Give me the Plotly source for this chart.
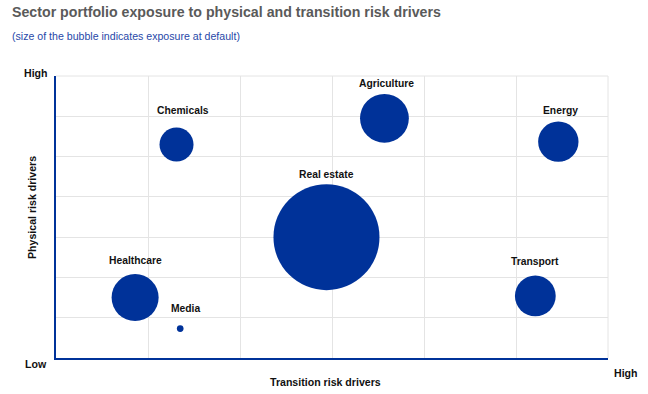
import math
import plotly.graph_objects as go

# ---- data ----
sectors = ["Chemicals", "Agriculture", "Energy", "Real estate", "Healthcare", "Media", "Transport"]
transition_risk = [1.31, 3.57, 5.46, 2.94, 0.86, 1.35, 5.21]   # x (0 = low, 6 = high)
physical_risk = [5.30, 5.95, 5.37, 3.00, 1.50, 0.73, 1.54]      # y (0 = low, 7 = high)
exposure = [10.3, 21.2, 14.5, 100.0, 19.7, 0.4, 14.8]            # relative exposure at default

x_ticks = [0, 1, 2, 3, 4, 5, 6]
y_ticks = [0, 1, 2, 3, 4, 5, 6, 7]

# ---- style ----
BLUE = "#003299"
GRID = "#e4e4e4"
FONT = "Liberation Sans, Arial, sans-serif"
MAX_DIAMETER = 106.0
sizeref = 2.0 * max(exposure) / (MAX_DIAMETER ** 2)
label_gap = {"Chemicals": 17, "Agriculture": 10, "Energy": 11, "Real estate": 10,
             "Healthcare": 14, "Media": 17, "Transport": 14}
label_dx = {"Chemicals": 6, "Media": 5, "Agriculture": 2, "Energy": 2}

W, H = 648, 394

fig = go.Figure()
fig.add_trace(go.Scatter(
    x=transition_risk, y=physical_risk, mode="markers",
    marker=dict(size=exposure, sizemode="area", sizeref=sizeref, color=BLUE,
                opacity=1, line=dict(width=0)),
    hoverinfo="text", text=sectors, showlegend=False,
))

annotations = []
for name, xv, yv, ev in zip(sectors, transition_risk, physical_risk, exposure):
    radius = math.sqrt(ev / 2.0 / sizeref)
    annotations.append(dict(
        x=xv, y=yv, xref="x", yref="y", text=f"<b>{name}</b>", showarrow=False,
        font=dict(family=FONT, size=10.3, color="#111111"),
        xanchor="center", yanchor="middle",
        yshift=radius + label_gap[name], xshift=label_dx.get(name, 0),
    ))

lab_font = dict(family=FONT, size=10.6, color="#111111")
annotations += [
    dict(x=0, y=1, xref="paper", yref="paper", text="<b>High</b>", showarrow=False,
         xanchor="center", yanchor="middle", xshift=-20, yshift=3, font=lab_font),
    dict(x=0, y=0, xref="paper", yref="paper", text="<b>Low</b>", showarrow=False,
         xanchor="center", yanchor="middle", xshift=-20, yshift=-6, font=lab_font),
    dict(x=1, y=0, xref="paper", yref="paper", text="<b>High</b>", showarrow=False,
         xanchor="center", yanchor="middle", xshift=18, yshift=-15, font=lab_font),
    dict(x=0.5, y=0, xref="paper", yref="paper", text="<b>Transition risk drivers</b>",
         showarrow=False, xanchor="center", yanchor="middle", xshift=-7, yshift=-24, font=lab_font),
    dict(x=0, y=0.532, xref="paper", yref="paper", text="<b>Physical risk drivers</b>",
         showarrow=False, xanchor="center", yanchor="middle", xshift=-24, textangle=-90,
         font=lab_font),
    dict(x=0, y=1, xref="paper", yref="paper",
         text="(size of the bubble indicates exposure at default)", showarrow=False,
         xanchor="left", yanchor="middle", xshift=-46, yshift=40,
         font=dict(family=FONT, size=10.6, color="#2848a8")),
]

# gray frame lines on the top and right edges (gridlines at the range ends)
shapes = [
    dict(type="line", xref="paper", yref="paper", x0=0, x1=1, y0=1, y1=1,
         line=dict(color=GRID, width=1), layer="below"),
    dict(type="line", xref="paper", yref="paper", x0=1, x1=1, y0=0, y1=1,
         line=dict(color=GRID, width=1), layer="below"),
]

fig.update_layout(
    width=W, height=H,
    margin=dict(l=56, r=40, t=76, b=36, autoexpand=False),
    paper_bgcolor="white", plot_bgcolor="white",
    title=dict(text="<b>Sector portfolio exposure to physical and transition risk drivers</b>",
               x=12 / W, xref="container", xanchor="left",
               y=1 - 12 / H, yref="container", yanchor="middle",
               font=dict(family=FONT, size=14.2, color="#5a5a5a")),
    xaxis=dict(range=[x_ticks[0], x_ticks[-1]], tickvals=x_ticks, showticklabels=False,
               showgrid=True, gridcolor=GRID, gridwidth=1, zeroline=False,
               showline=True, linecolor=BLUE, linewidth=2, ticks="", fixedrange=True),
    yaxis=dict(range=[y_ticks[0], y_ticks[-1]], tickvals=y_ticks, showticklabels=False,
               showgrid=True, gridcolor=GRID, gridwidth=1, zeroline=False,
               showline=True, linecolor=BLUE, linewidth=2, ticks="", fixedrange=True),
    shapes=shapes,
    annotations=annotations,
)

fig.write_html("out.html", config={"displayModeBar": False},
               post_script="document.body.style.margin='0';document.body.style.overflow='hidden';")
